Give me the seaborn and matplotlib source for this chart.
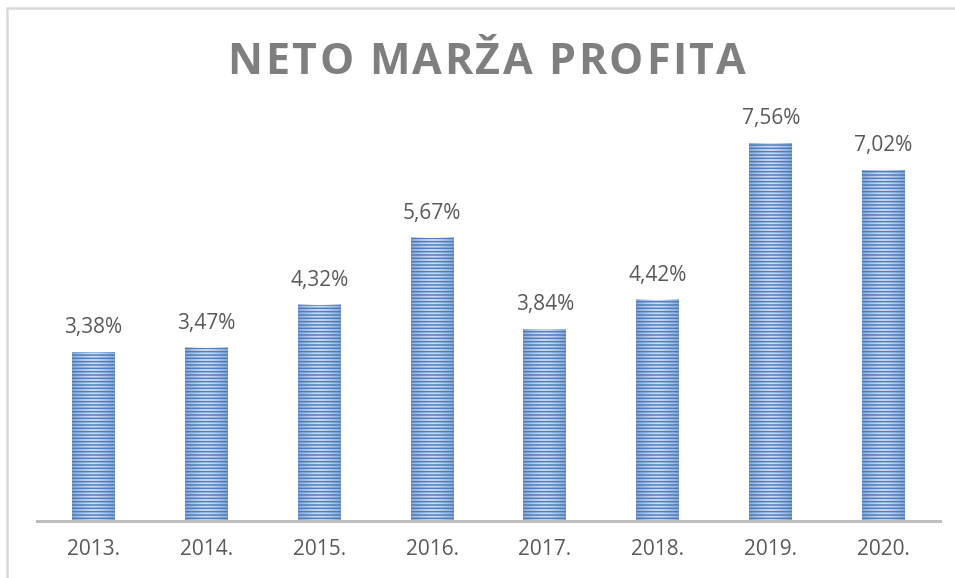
import matplotlib
matplotlib.use("Agg")
import matplotlib.pyplot as plt
import seaborn as sns
import pandas as pd
import numpy as np
from matplotlib.lines import Line2D

years = ["2013.", "2014.", "2015.", "2016.", "2017.", "2018.", "2019.", "2020."]
values = [3.38, 3.47, 4.32, 5.67, 3.84, 4.42, 7.56, 7.02]
labels = ["3,38%", "3,47%", "4,32%", "5,67%", "3,84%", "4,42%", "7,56%", "7,02%"]
title = "NETO MARŽA PROFITA"

sns.set_theme(style="white")
plt.rcParams['font.family'] = ['Open Sans', 'DejaVu Sans']
plt.rcParams['hatch.linewidth'] = 1.1

W, H = 955, 578
fig = plt.figure(figsize=(W / 100, H / 100), dpi=100)
fig.patch.set_facecolor("white")

ax_left, ax_right, ax_bottom = 37, 940, 521
ymax = 8.0
ax_top = ax_bottom - 50 * ymax
ax = fig.add_axes([ax_left / W, 1 - ax_bottom / H, (ax_right - ax_left) / W, (ax_bottom - ax_top) / H])

df = pd.DataFrame({"year": years, "value": values})
sns.barplot(data=df, x="year", y="value", color="#d0def2", width=0.38, ax=ax,
            saturation=1, edgecolor="#5080c2", linewidth=0)
bars = list(ax.patches)
for p in bars:
    p.set_hatch("-----")
    p.set_edgecolor("#5080c2")
    p.set_linewidth(0)
    p.set_zorder(2)

# horizontal gradient overlay: darker at the bar edges, clear in the middle
xs = np.linspace(-1, 1, 64)
alpha = np.clip(np.abs(xs) ** 1.5 * 0.5, 0, 1)
grad = np.zeros((1, 64, 4))
grad[..., 0] = 0x45 / 255
grad[..., 1] = 0x75 / 255
grad[..., 2] = 0xbb / 255
grad[..., 3] = alpha
for p in bars:
    x0, w, h = p.get_x(), p.get_width(), p.get_height()
    ax.imshow(grad, extent=[x0, x0 + w, 0, h], aspect="auto", zorder=3,
              interpolation="bilinear")

ax.set_xlim(-0.5, len(years) - 0.5)
ax.set_ylim(0, ymax)
ax.set_aspect("auto")
ax.set_xlabel("")
ax.set_ylabel("")
ax.set_yticks([])
for s in ["top", "right", "left"]:
    ax.spines[s].set_visible(False)
ax.spines["bottom"].set_color("#bfbfbf")
ax.spines["bottom"].set_linewidth(2.2)
ax.spines["bottom"].set_zorder(4)
ax.tick_params(axis="x", length=0, pad=13, labelsize=15, labelcolor="#595959")

for i, (v, lab) in enumerate(zip(values, labels)):
    ax.annotate(lab, (i, v), xytext=(0, 13.5), textcoords="offset points",
                ha="center", va="baseline", fontsize=15, color="#595959",
                annotation_clip=False)

# title with letter spacing
fig.canvas.draw()
renderer = fig.canvas.get_renderer()
tsize = 31
spacing = 2.5
chars = []
widths = []
for ch in title:
    t = fig.text(0, 0, ch if ch != " " else "\u00a0", fontsize=tsize, fontweight="bold",
                 color="#7f7f7f", ha="left", va="baseline")
    bb = t.get_window_extent(renderer)
    chars.append(t)
    widths.append(bb.width)
total = sum(widths) + spacing * (len(title) - 1)
x = (W - total) / 2 + 9
base_y = 74
for t, w in zip(chars, widths):
    t.set_position((x / W, 1 - base_y / H))
    x += w + spacing

fig.add_artist(Line2D([7 / W, 1], [1 - 8 / H, 1 - 8 / H], color="#d9d9d9", lw=1.8))
fig.add_artist(Line2D([7 / W, 7 / W], [0, 1 - 8 / H], color="#d9d9d9", lw=1.8))

fig.savefig("out.png", dpi=100)
